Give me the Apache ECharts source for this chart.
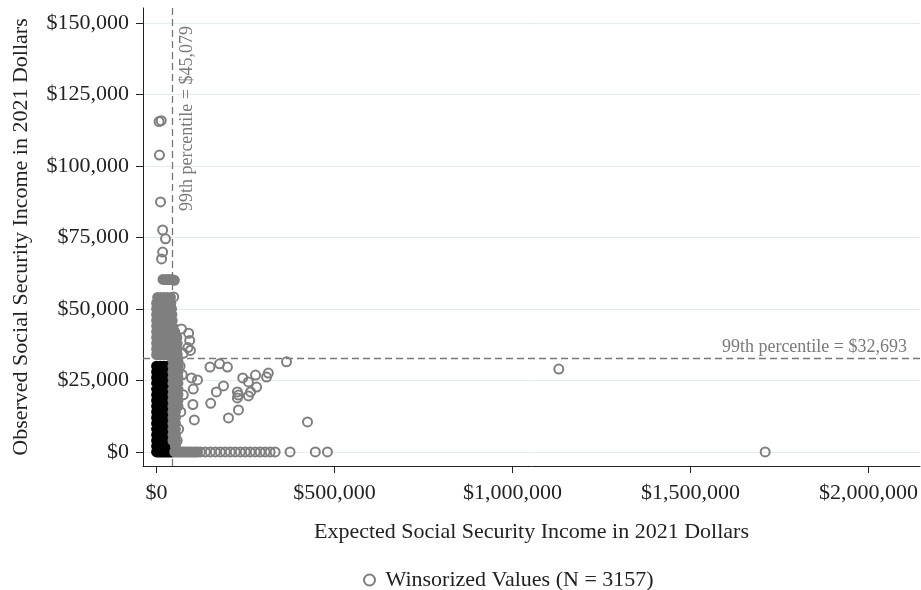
<!DOCTYPE html>
<html><head><meta charset="utf-8">
<script src="https://cdn.jsdelivr.net/npm/echarts@6/dist/echarts.min.js"></script>
<style>html,body{margin:0;padding:0;background:#fff}#c{width:921px;height:590px}</style>
</head><body><div id="c"></div>
<script>
// ---- tick labels / reference values ----
const xTicks = [0, 500000, 1000000, 1500000, 2000000];
const yTicks = [0, 25000, 50000, 75000, 100000, 125000, 150000];
const pctX = 45079;
const pctY = 32693;
const legendName = 'Winsorized Values (N = 3157)';
const xTitle = 'Expected Social Security Income in 2021 Dollars';
const yTitle = 'Observed Social Security Income in 2021 Dollars';

// ---- non-winsorized observations (dense black mass near the origin) ----
const nonWinsorized = [
  [0,0],[10000,0],[20000,0],[30000,0],[40000,0],[44000,0],
  [0,2000],[10000,2000],[20000,2000],[30000,2000],[40000,2000],[44000,2000],
  [0,4000],[10000,4000],[20000,4000],[30000,4000],[40000,4000],[43000,4000],
  [0,6000],[10000,6000],[20000,6000],[30000,6000],[40000,6000],
  [0,8000],[10000,8000],[20000,8000],[30000,8000],[40000,8000],
  [0,10000],[10000,10000],[20000,10000],[30000,10000],[40000,10000],
  [0,12000],[10000,12000],[20000,12000],[30000,12000],[40000,12000],
  [0,14000],[10000,14000],[20000,14000],[30000,14000],[40000,14000],
  [0,16000],[10000,16000],[20000,16000],[30000,16000],[40000,16000],
  [0,18000],[10000,18000],[20000,18000],[30000,18000],[40000,18000],
  [0,20000],[10000,20000],[20000,20000],[30000,20000],[40000,20000],
  [0,22000],[10000,22000],[20000,22000],[30000,22000],[40000,22000],
  [0,24000],[10000,24000],[20000,24000],[30000,24000],[40000,24000],
  [0,26000],[10000,26000],[20000,26000],[30000,26000],[40000,26000],
  [0,28000],[10000,28000],[20000,28000],[30000,28000],[40000,28000],
  [0,30000],[10000,30000],[20000,30000],[30000,30000],[40000,30000]
];

// ---- winsorized observations: heavily overlapping clusters ----
const winsorizedDense = [
  // above the y threshold, x below the x threshold
  [0,34000],[10000,34000],[20000,34000],[30000,34000],[40000,34000],[46000,34000],[52000,34000],[58000,34000],
  [0,36000],[10000,36000],[20000,36000],[30000,36000],[40000,36000],[46000,36000],[52000,36000],[58000,36000],
  [0,38000],[10000,38000],[20000,38000],[30000,38000],[40000,38000],[46000,38000],[52000,38000],[58000,38000],
  [0,40000],[10000,40000],[20000,40000],[30000,40000],[40000,40000],[46000,40000],[52000,40000],[57000,40000],
  [0,42000],[10000,42000],[20000,42000],[30000,42000],[40000,42000],[46000,42000],[51000,42000],
  [0,44000],[10000,44000],[20000,44000],[30000,44000],[40000,44000],[45000,44000],
  [0,46000],[10000,46000],[20000,46000],[30000,46000],[40000,46000],[44000,46000],
  [0,48000],[10000,48000],[20000,48000],[30000,48000],[40000,48000],[43000,48000],
  [0,50000],[10000,50000],[20000,50000],[30000,50000],[40000,50000],[42000,50000],
  [0,52000],[10000,52000],[20000,52000],[30000,52000],[40000,52000],
  [3000,54000],[12000,54000],[21000,54000],[30000,54000],[39000,54000],
  [18000,60300],[26000,60300],[34000,60300],[42000,60300],[50000,60000],
  // right of the x threshold, below the y threshold
  [53000,2000],
  [46000,4000],[53000,4000],
  [46000,6000],[53000,6000],
  [46000,8000],[53000,8000],
  [46000,10000],[53000,10000],
  [46000,12000],[53000,12000],
  [46000,14000],[53000,14000],
  [46000,16000],[53000,16000],[60000,16000],
  [46000,18000],[53000,18000],[60000,18000],
  [46000,20000],[53000,20000],[60000,20000],
  [46000,22000],[53000,22000],[60000,22000],
  [46000,24000],[53000,24000],[60000,24000],
  [46000,26000],[53000,26000],[60000,26000],
  [46000,28000],[53000,28000],[60000,28000],
  [46000,30000],[53000,30000],[60000,30000],
  [46000,32000],[53000,32000],[60000,32000],
  // zero observed income, expected just above threshold
  [51000,0],[58000,0],[65000,0],[72000,0],[79000,0],[86000,0],[93000,0],[100000,0],[108000,0],[115000,0]
];

// ---- winsorized observations: individually visible points ----
const winsorizedPoints = [
  [7000,115500],[13000,115800],[8000,103800],[11000,87400],[17000,77600],[25000,74500],
  [17000,69900],[14000,67500],[48000,54200],
  [90000,41500],[93000,39000],[88000,36500],[95000,35500],[70000,43000],[75000,34500],
  [66000,30000],[72000,27000],[75000,20000],[68000,14000],[62000,8000],[58000,4000],
  [98000,25900],[115000,25200],[103000,22000],[102000,16600],[106000,11200],
  [150000,29700],[177000,30800],[199000,29700],[365000,31500],
  [242000,25900],[258000,24500],[278000,26900],[309000,26200],[314000,27600],
  [188000,23100],[168000,21000],[227000,21000],[230000,19900],[264000,21000],[281000,22700],
  [258000,19600],[227000,18900],[152000,17000],[230000,14700],[202000,11900],
  [424000,10500],[1130000,29000],
  [123000,0],[137000,0],[151000,0],[165000,0],[179000,0],[193000,0],[207000,0],[221000,0],
  [235000,0],[249000,0],[263000,0],[277000,0],[291000,0],[305000,0],[319000,0],[333000,0],
  [375000,0],[446000,0],[480000,0],[1710000,0]
];

const serif = "'Liberation Serif', 'Times New Roman', 'DejaVu Serif', serif";
const money = v => '$' + Math.round(v).toLocaleString('en-US');
const gray = '#7f7f7f';

const chart = echarts.init(document.getElementById('c'), null, {renderer: 'canvas'});
chart.setOption({
  animation: false,
  backgroundColor: '#fff',
  grid: {left: 143, right: 1, top: 8, bottom: 124, containLabel: false, outerBoundsMode: 'none'},
  legend: {
    data: [legendName], left: 358, top: 564, itemWidth: 22, itemHeight: 11, itemGap: 10,
    textStyle: {fontFamily: serif, fontSize: 22, color: '#222'}
  },
  xAxis: {
    type: 'value', min: -38200, max: 2145000,
    name: xTitle, nameLocation: 'middle', nameGap: 55,
    nameTextStyle: {fontFamily: serif, fontSize: 22, color: '#222'},
    axisLine: {show: true, onZero: false, lineStyle: {color: '#222', width: 1}},
    axisTick: {show: true, length: 7, customValues: xTicks, lineStyle: {color: '#222'}},
    axisLabel: {customValues: xTicks, formatter: money, margin: 16, fontFamily: serif, fontSize: 22, color: '#222'},
    splitLine: {show: false}
  },
  yAxis: {
    type: 'value', min: -4900, max: 155200,
    name: yTitle, nameLocation: 'middle', nameGap: 111, nameRotate: 90,
    nameTextStyle: {fontFamily: serif, fontSize: 22, color: '#222'},
    axisLine: {show: true, onZero: false, lineStyle: {color: '#222', width: 1}},
    axisTick: {show: true, length: 7, customValues: yTicks, lineStyle: {color: '#222'}},
    axisLabel: {customValues: yTicks, formatter: money, margin: 14, fontFamily: serif, fontSize: 22, color: '#222'},
    splitLine: {show: true, lineStyle: {color: '#e3edf0', width: 1}}
  },
  series: [
    {
      type: 'scatter', name: 'Non-winsorized', data: nonWinsorized, z: 1,
      large: true, largeThreshold: 1,
      symbol: 'circle', symbolSize: 11, itemStyle: {color: '#000', opacity: 1, borderWidth: 0}, silent: true,
      markLine: {
        z: 1, silent: true, symbol: ['none', 'none'], animation: false,
        lineStyle: {type: [7, 4], color: '#777', width: 1.3, opacity: 1},
        label: {fontFamily: serif, fontSize: 18, color: '#7a7a7a'},
        data: [
          {xAxis: pctX, label: {formatter: '99th percentile = ' + money(pctX), position: 'insideEndBottom', distance: [18, 6]}},
          {yAxis: pctY, label: {formatter: '99th percentile = ' + money(pctY), position: 'insideEndTop', distance: [13, 2]}}
        ]
      }
    },
    {
      type: 'scatter', name: legendName, data: winsorizedPoints, z: 3,
      symbol: 'circle', symbolSize: 9,
      itemStyle: {color: 'rgba(0,0,0,0)', borderColor: gray, borderWidth: 2, opacity: 1}
    },
    {
      type: 'scatter', name: legendName, data: winsorizedDense, z: 2,
      large: true, largeThreshold: 1,
      symbol: 'circle', symbolSize: 11, itemStyle: {color: gray, opacity: 1, borderWidth: 0}, silent: true
    }
  ]
});
</script>
</body></html>
